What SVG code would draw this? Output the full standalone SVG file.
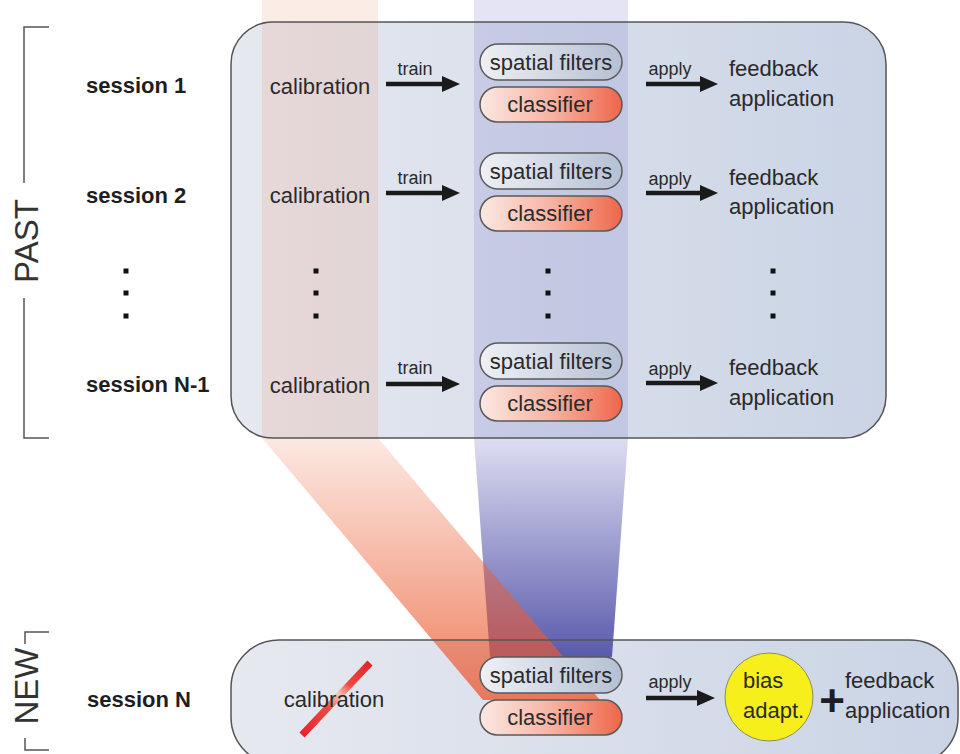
<svg xmlns="http://www.w3.org/2000/svg" width="960" height="754" viewBox="0 0 960 754">
<defs>
<style>
.t{font-family:"Liberation Sans",Arial,Helvetica,sans-serif;font-size:22px;fill:#2a2a2a}
.b{font-weight:bold;fill:#1e1e1e}
.s{font-size:18px}
.big{font-size:33px;fill:#333}
.box{stroke:#555;stroke-width:1.5;fill:none}
.pill{stroke:#5a5a5a;stroke-width:1.5}
.arr{stroke:#1a1a1a;stroke-width:4.5;fill:none;marker-end:url(#ah)}
.br{stroke:#555;stroke-width:1.5;fill:none}
.dot{fill:#111}
</style>
<marker id="ah" viewBox="0 0 18 16" refX="2" refY="8" markerWidth="18" markerHeight="16" markerUnits="userSpaceOnUse" orient="auto">
<path d="M0 0 L18 8 L0 16 Z" fill="#1a1a1a"/>
</marker>
<linearGradient id="boxg" x1="0" y1="0" x2="1" y2="0">
<stop offset="0" stop-color="#e7e9f0"/>
<stop offset="1" stop-color="#cad4e5"/>
</linearGradient>
<linearGradient id="spg" x1="0" y1="0" x2="1" y2="0">
<stop offset="0" stop-color="#eef0f4"/>
<stop offset="1" stop-color="#b5c0d4"/>
</linearGradient>
<linearGradient id="clg" x1="0" y1="0" x2="1" y2="0">
<stop offset="0" stop-color="#fbe8e2"/>
<stop offset="0.5" stop-color="#f6b4a4"/>
<stop offset="1" stop-color="#ef664a"/>
</linearGradient>
<linearGradient id="blueBeam" gradientUnits="userSpaceOnUse" x1="0" y1="438" x2="0" y2="657">
<stop offset="0" stop-color="#dedef2"/>
<stop offset="1" stop-color="#5a5aac"/>
</linearGradient>
<linearGradient id="orBeam" gradientUnits="userSpaceOnUse" x1="0" y1="438" x2="0" y2="700">
<stop offset="0" stop-color="rgb(235,95,50)" stop-opacity="0.14"/>
<stop offset="1" stop-color="rgb(235,90,50)" stop-opacity="0.78"/>
</linearGradient>
<linearGradient id="strike" gradientUnits="userSpaceOnUse" x1="302" y1="735" x2="370" y2="663">
<stop offset="0" stop-color="#e8222a"/>
<stop offset="0.38" stop-color="#ec4a40"/>
<stop offset="0.55" stop-color="#f8c8b8"/>
<stop offset="0.7" stop-color="#ec4a40"/>
<stop offset="1" stop-color="#e8222a"/>
</linearGradient>
</defs>

<g id="backgrounds">
<rect x="231" y="22" width="655" height="416" rx="42" fill="url(#boxg)"/>
<rect x="231" y="640" width="727" height="125" rx="48" fill="url(#boxg)"/>
<rect x="262" y="0" width="116" height="438" fill="rgb(235,130,90)" fill-opacity="0.15"/>
<rect x="474" y="0" width="154" height="438" fill="rgb(95,95,195)" fill-opacity="0.17"/>
</g>

<g id="beams">
<path d="M474 438 L628 438 L612 657 L490 657 Z" fill="url(#blueBeam)"/>
<path d="M262 438 L378 438 L600 700 L483 700 Z" fill="url(#orBeam)"/>
</g>

<g id="frames">
<rect x="231" y="22" width="655" height="416" rx="42" class="box"/>
<rect x="231" y="640" width="727" height="125" rx="48" class="box"/>
</g>

<g id="past-bracket">
<path class="br" d="M49 27 H24 V183 M24 298 V438 H49"/>
<text class="t big" transform="translate(38,241) rotate(-90)" text-anchor="middle">PAST</text>
</g>

<g id="new-bracket">
<path class="br" d="M49 632 H25 V644 M25 738 V750 H49"/>
<text class="t big" transform="translate(38,686) rotate(-90)" text-anchor="middle">NEW</text>
</g>

<g id="connectors">
<path class="arr" d="M386 84 H444"/>
<path class="arr" d="M386 193 H444"/>
<path class="arr" d="M386 384 H444"/>
<path class="arr" d="M646 84 H702"/>
<path class="arr" d="M646 193 H702"/>
<path class="arr" d="M646 383 H702"/>
<path class="arr" d="M646 698 H699"/>
</g>

<g id="arrow-labels">
<text class="t s" x="415" y="75" text-anchor="middle">train</text>
<text class="t s" x="415" y="184" text-anchor="middle">train</text>
<text class="t s" x="415" y="374" text-anchor="middle">train</text>
<text class="t s" x="670" y="75" text-anchor="middle">apply</text>
<text class="t s" x="670" y="185" text-anchor="middle">apply</text>
<text class="t s" x="670" y="375" text-anchor="middle">apply</text>
<text class="t s" x="670" y="688" text-anchor="middle">apply</text>
</g>

<g id="session-1">
<text class="t b" x="86" y="93">session 1</text>
<text class="t" x="320" y="94" text-anchor="middle">calibration</text>
<rect class="pill" x="480" y="44" width="142" height="36" rx="18" fill="url(#spg)"/>
<text class="t" x="551" y="70" text-anchor="middle">spatial filters</text>
<rect class="pill" x="480" y="87" width="142" height="35" rx="17.5" fill="url(#clg)"/>
<text class="t" x="550" y="112" text-anchor="middle">classifier</text>
<text class="t" x="729" y="76">feedback</text>
<text class="t" x="729" y="106">application</text>
</g>

<g id="session-2">
<text class="t b" x="86" y="203">session 2</text>
<text class="t" x="320" y="203" text-anchor="middle">calibration</text>
<rect class="pill" x="480" y="153" width="142" height="36" rx="18" fill="url(#spg)"/>
<text class="t" x="551" y="179" text-anchor="middle">spatial filters</text>
<rect class="pill" x="480" y="196" width="142" height="35" rx="17.5" fill="url(#clg)"/>
<text class="t" x="550" y="221" text-anchor="middle">classifier</text>
<text class="t" x="729" y="185">feedback</text>
<text class="t" x="729" y="214">application</text>
</g>

<g id="ellipsis">
<rect class="dot" x="123.5" y="268.5" width="5" height="5"/>
<rect class="dot" x="123.5" y="290.5" width="5" height="5"/>
<rect class="dot" x="123.5" y="313.5" width="5" height="5"/>
<rect class="dot" x="313.5" y="268.5" width="5" height="5"/>
<rect class="dot" x="313.5" y="290.5" width="5" height="5"/>
<rect class="dot" x="313.5" y="313.5" width="5" height="5"/>
<rect class="dot" x="545.5" y="268.5" width="5" height="5"/>
<rect class="dot" x="545.5" y="290.5" width="5" height="5"/>
<rect class="dot" x="545.5" y="313.5" width="5" height="5"/>
<rect class="dot" x="770.5" y="268.5" width="5" height="5"/>
<rect class="dot" x="770.5" y="290.5" width="5" height="5"/>
<rect class="dot" x="770.5" y="313.5" width="5" height="5"/>
</g>

<g id="session-N-1">
<text class="t b" x="86" y="392">session N-1</text>
<text class="t" x="320" y="393" text-anchor="middle">calibration</text>
<rect class="pill" x="480" y="343" width="142" height="36" rx="18" fill="url(#spg)"/>
<text class="t" x="551" y="369" text-anchor="middle">spatial filters</text>
<rect class="pill" x="480" y="386" width="142" height="35" rx="17.5" fill="url(#clg)"/>
<text class="t" x="550" y="411" text-anchor="middle">classifier</text>
<text class="t" x="729" y="375">feedback</text>
<text class="t" x="729" y="405">application</text>
</g>

<g id="session-N">
<text class="t b" x="87" y="707">session N</text>
<line x1="302" y1="735" x2="370" y2="663" stroke="url(#strike)" stroke-width="7"/>
<text class="t" x="334" y="707" text-anchor="middle">calibration</text>
<rect class="pill" x="480" y="657" width="142" height="36" rx="18" fill="url(#spg)"/>
<text class="t" x="551" y="683" text-anchor="middle">spatial filters</text>
<rect class="pill" x="480" y="700" width="142" height="35" rx="17.5" fill="url(#clg)"/>
<text class="t" x="550" y="725" text-anchor="middle">classifier</text>
</g>

<g id="bias-adapt">
<circle cx="769" cy="697" r="44" fill="#f7ef1c" stroke="#8a8a6a" stroke-width="1"/>
<text class="t" x="743" y="688">bias</text>
<text class="t" x="743" y="718">adapt.</text>
</g>

<g id="plus">
<text class="t b" x="832" y="716" text-anchor="middle" style="font-size:44px">+</text>
</g>

<g id="feedback-N">
<text class="t" x="845" y="688">feedback</text>
<text class="t" x="845" y="718">application</text>
</g>
</svg>
